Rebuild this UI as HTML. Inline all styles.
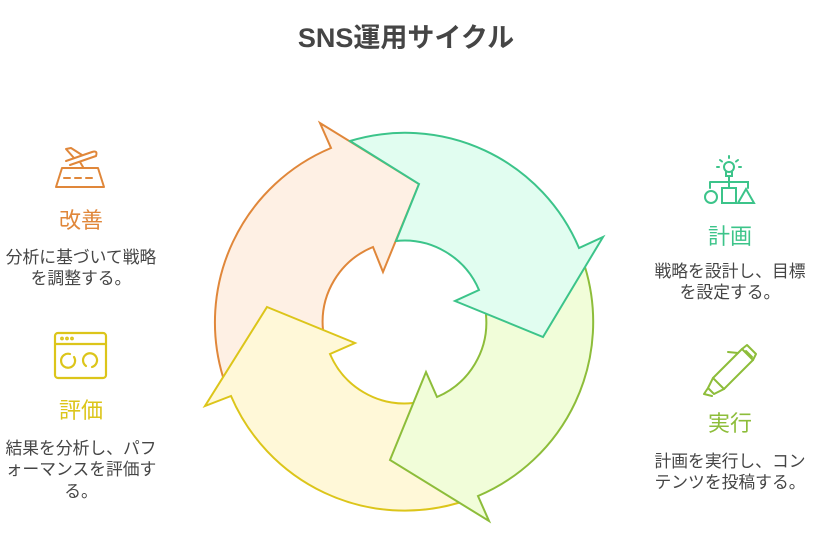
<!DOCTYPE html>
<html><head><meta charset="utf-8"><style>
body{margin:0;width:826px;height:550px;background:#fff;overflow:hidden;font-family:"Liberation Sans","Noto Sans CJK JP",sans-serif;}
svg{position:absolute;left:0;top:0}
</style></head><body>
<svg width="826" height="550" viewBox="0 0 826 550" xmlns="http://www.w3.org/2000/svg" font-family="Liberation Sans, Noto Sans CJK JP, sans-serif">
<text x="406" y="47" text-anchor="middle" font-size="27" font-weight="bold" fill="#454545">SNS運用サイクル</text>
<g stroke-width="2" stroke-linejoin="miter">
<path d="M223,377 A189,189 0 0 1 331,148 L320,123 L419,184 L383,272 L373,247 A81,81 0 0 0 323,330 Z" fill="#fef0e4" stroke="#e0873a"/>
<path d="M267,307 L355,343 L330,354 A81,81 0 0 0 413,403 L458,503 A189,189 0 0 1 231,396 L205,406 Z" fill="#fff8d8" stroke="#dcc51a"/>
<path d="M390,460 L426,372 L437,397 A81,81 0 0 0 486,315 L585,267 A189,189 0 0 1 478,496 L489,521 Z" fill="#f1fdd9" stroke="#8dbd3a"/>
<path d="M350,141 L419,184 L396,241 A81,81 0 0 1 479,290 L455,301 L543,337 L603,237 L579,248 A189,189 0 0 0 350,141 Z" fill="#e1fdf0" stroke="#3cc48a"/>
</g>
<g fill="none" stroke="#e0873a" stroke-width="2" stroke-linecap="round" stroke-linejoin="round">
<path d="M56,187 L104,187 L98,168 L62,168 Z"/>
<path d="M64,178 h6 M75,178 h6 M86,178 h6"/>
<path d="M66,161 L92,152 Q98,150 96,156 L70,165 M74,158 L66,149 L71,148 L82,155 M80,162 L83,167"/>
</g>
<text x="81" y="228" text-anchor="middle" font-size="22" fill="#e0873a">改善</text>
<g font-size="16.8" fill="#454545" text-anchor="middle">
<text x="81" y="263">分析に基づいて戦略</text>
<text x="81" y="284">を調整する。</text>
</g>
<g fill="none" stroke="#dcc51a" stroke-width="2.2" stroke-linecap="round">
<rect x="55" y="333" width="51" height="45" rx="3"/>
<path d="M56,344 h49"/>
<circle cx="62" cy="338.5" r="0.8"/><circle cx="67" cy="338.5" r="0.8"/><circle cx="72" cy="338.5" r="0.8"/>
<path d="M70,354 A7,7 0 1 0 74,357"/>
<path d="M92,367 A7,7 0 1 0 86,366"/>
</g>
<text x="81" y="418" text-anchor="middle" font-size="22" fill="#dcc51a">評価</text>
<g font-size="16.8" fill="#454545" text-anchor="middle">
<text x="81" y="454">結果を分析し、パフ</text>
<text x="81" y="475">ォーマンスを評価す</text>
<text x="81" y="497">る。</text>
</g>
<g fill="none" stroke="#3cc48a" stroke-width="2" stroke-linecap="round">
<circle cx="729" cy="167" r="5"/><path d="M726,172 v4 h6 v-4 M729,176 v6 M710,182 h38 v6 M710,182 v6 M729,182 v5"/>
<circle cx="711" cy="197" r="6"/><rect x="722" y="188" width="14" height="15"/><path d="M746,189 L754,203 L738,203 Z"/>
<path d="M729,156 v2 M720,160 l2,1.5 M738,160 l-2,1.5 M717,167 h2 M741,167 h-2"/>
</g>
<text x="730" y="244" text-anchor="middle" font-size="22" fill="#3cc48a">計画</text>
<g font-size="16.8" fill="#454545" text-anchor="middle">
<text x="730" y="277">戦略を設計し、目標</text>
<text x="730" y="298">を設定する。</text>
</g>
<g fill="none" stroke="#8dbd3a" stroke-width="2" stroke-linejoin="round" stroke-linecap="round">
<path d="M713,378 L742,349 L753,360 L724,389 Z"/>
<path d="M742,349 L747,345 L756,354 L753,360 M746,351 L752,357"/>
<path d="M713,378 L708,388 L714,394 L724,389 M708,388 L704,394 L712,396"/>
<path d="M738,353 L728,352"/>
</g>
<text x="730" y="431" text-anchor="middle" font-size="22" fill="#8dbd3a">実行</text>
<g font-size="16.8" fill="#454545" text-anchor="middle">
<text x="730" y="467">計画を実行し、コン</text>
<text x="730" y="488">テンツを投稿する。</text>
</g>
</svg>
</body></html>
